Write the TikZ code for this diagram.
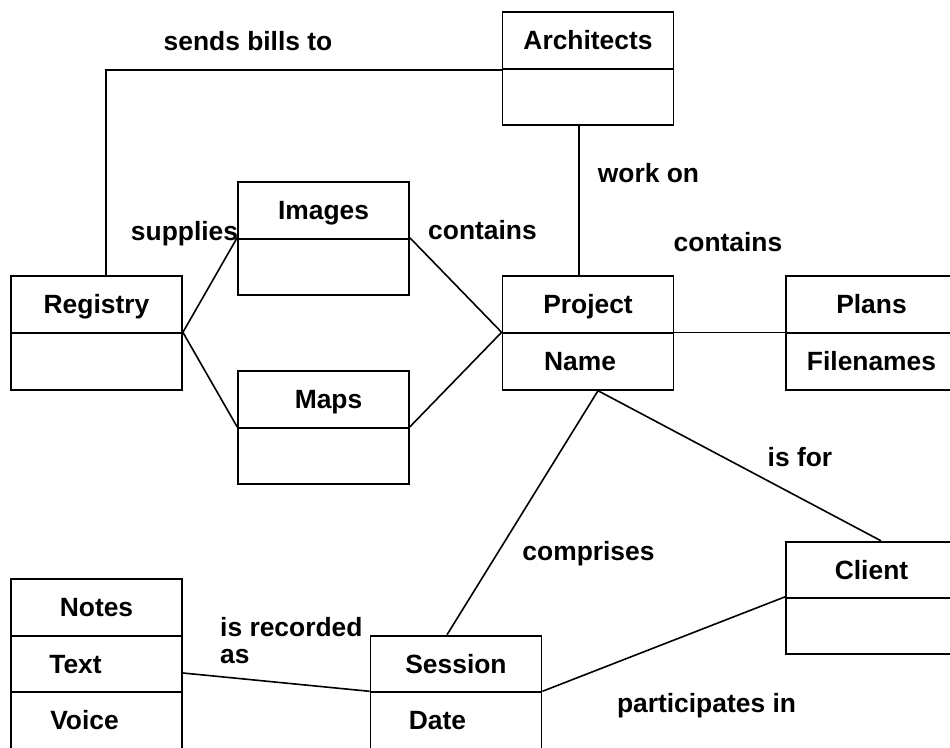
\documentclass[tikz,border=0pt]{standalone}
\usepackage{fontspec}
\setmainfont{Liberation Sans}
\begin{document}
\begin{tikzpicture}[x=1pt,y=-1pt,
  every node/.style={font=\fontsize{26.4}{27}\selectfont\bfseries},
  cell/.style={draw,line width=1.8pt,minimum width=171pt,minimum height=56.6pt,inner sep=0pt,text height=18.9pt,text depth=0pt},
  lbl/.style={inner sep=0pt,anchor=base},
  conn/.style={line width=1.6pt}]
\useasboundingbox (0,0) rectangle (950,747);
% Architects
\node[cell] (arch1) at (588,40.5) {Architects};
\node[cell] (arch2) at (588,97) {};
% Registry
\node[cell] (reg1) at (96.5,304.5) {Registry};
\node[cell] (reg2) at (96.5,361.5) {};
% Images
\node[cell] (img1) at (323.5,210.5) {Images};
\node[cell] (img2) at (323.5,267) {};
% Maps
\node[cell] (map1) at (323.5,399.5) {\hspace*{10pt}Maps};
\node[cell] (map2) at (323.5,456) {};
% Project
\node[cell] (proj1) at (588,304.5) {Project};
\node[cell] (proj2) at (588,361.5) {\hspace*{-16pt}Name};
% Plans
\node[cell] (plan1) at (871.5,304.5) {Plans};
\node[cell] (plan2) at (871.5,361.5) {Filenames};
% Client
\node[cell] (cli1) at (871.5,570) {Client};
\node[cell] (cli2) at (871.5,626) {};
% Notes
\node[cell] (notes1) at (96.5,607.5) {Notes};
\node[cell] (notes2) at (96.5,664) {\hspace*{-42pt}Text};
\node[cell] (notes3) at (96.5,720.5) {\hspace*{-24pt}Voice};
% Session
\node[cell] (sess1) at (456,664) {Session};
\node[cell] (sess2) at (456,720.5) {\hspace*{-37pt}Date};
% connectors
\draw[conn] ([xshift=9.5pt]reg1.north) |- (arch1.south west);
\draw[conn] ([xshift=-9pt]arch2.south) -- ([xshift=-9pt]proj1.north);
\draw[conn] (reg2.north east) -- (img2.north west);
\draw[conn] (reg2.north east) -- (map2.north west);
\draw[conn] (img2.north east) -- (proj2.north west);
\draw[conn] (map2.north east) -- (proj2.north west);
\draw[conn] (proj2.north east) -- (plan2.north west);
\draw[conn] ([xshift=10pt]proj2.south) -- ([xshift=-9pt]sess1.north);
\draw[conn] ([xshift=10pt]proj2.south) -- ([xshift=9.5pt]cli1.north);
\draw[conn] (sess2.north east) -- (cli2.north west);
\draw[conn] ([yshift=-9pt]notes2.east) -- (sess2.north west);
% labels
\node[lbl] (l1) at (248,50) {sends bills to};
\node[lbl] (l2) at (184.5,240) {supplies};
\node[lbl] (l3) at (482.5,239) {contains};
\node[lbl] (l4) at (648.5,182) {work on};
\node[lbl] (l5) at (728,251) {contains};
\node[lbl] (l6) at (800,466) {is for};
\node[lbl] (l7) at (588.5,560) {comprises};
\node[lbl] (l8) at (706.5,712) {participates in};
\node[lbl,anchor=base west,align=left] (l9) at (220,663) {is recorded\\as};
\end{tikzpicture}
\end{document}
